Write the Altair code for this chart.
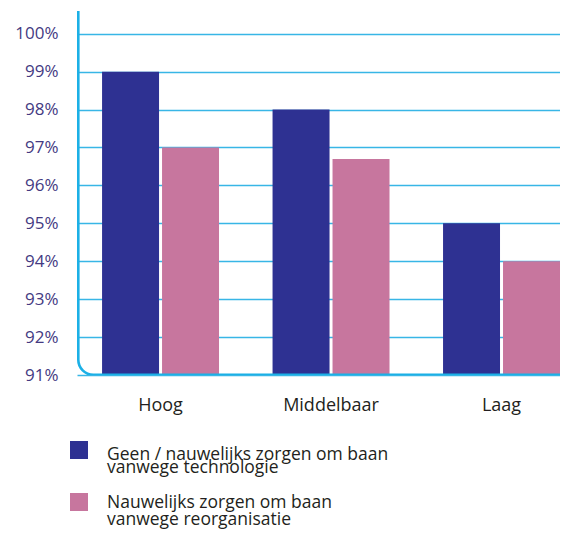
import altair as alt
import pandas as pd

categories = ["Hoog", "Middelbaar", "Laag"]
series = ["technologie", "reorganisatie"]
tech_values = [99, 98, 95]
reorg_values = [97, 96.7, 94]
legend_labels = [
    "Geen / nauwelijks zorgen om baan\nvanwege technologie",
    "Nauwelijks zorgen om baan\nvanwege reorganisatie",
]
y_ticks = [91, 92, 93, 94, 95, 96, 97, 98, 99, 100]

colors = ["#2e3192", "#c7769e"]
cyan = "#1bb0e6"
W, H = 483, 364

rows = []
for c, t, r in zip(categories, tech_values, reorg_values):
    rows.append({"cat": c, "series": series[0], "value": t})
    rows.append({"cat": c, "series": series[1], "value": r})
df = pd.DataFrame(rows)

color_scale = alt.Scale(domain=series, range=colors)

bars = alt.Chart(df).mark_bar().encode(
    x=alt.X("cat:N", sort=categories, title=None,
            scale=alt.Scale(paddingInner=0.314, paddingOuter=0.0735, align=1),
            axis=alt.Axis(labelAngle=0, domain=False, ticks=False, grid=False,
                          labelFont="Open Sans", labelFontSize=18, labelColor="#231f20",
                          labelPadding=21)),
    xOffset=alt.XOffset("series:N", sort=series, scale=alt.Scale(paddingInner=0.05)),
    y=alt.Y("value:Q", title=None,
            scale=alt.Scale(domain=[91, 100.6], zero=False, nice=False),
            axis=alt.Axis(values=y_ticks, labelExpr="datum.value + '%'", domain=False,
                          ticks=False, grid=True, gridColor="#38b6e6", gridWidth=1.5,
                          labelFont="Open Sans", labelFontSize=17, labelColor="#443a82",
                          labelPadding=19)),
    y2=alt.datum(91),
    color=alt.Color("series:N", scale=color_scale, legend=None),
)

frame = alt.Chart(pd.DataFrame({"a": [0]})).mark_rect(
    filled=False, stroke=cyan, strokeWidth=2.6, cornerRadiusBottomLeft=15, clip=True
).encode(
    x=alt.value(1.3), x2=alt.value(W + 20),
    y=alt.value(-40), y2=alt.value(H - 0.2),
)

leg_df = pd.DataFrame({"series": series, "label": legend_labels})

sq1 = alt.Chart(leg_df).transform_filter(alt.datum.series == series[0]).mark_square(
    size=324, opacity=1).encode(
    x=alt.value(2), y=alt.value(439),
    color=alt.Color("series:N", scale=color_scale, legend=None))
sq2 = alt.Chart(leg_df).transform_filter(alt.datum.series == series[1]).mark_square(
    size=324, opacity=1).encode(
    x=alt.value(2), y=alt.value(491),
    color=alt.Color("series:N", scale=color_scale, legend=None))

t1 = alt.Chart(leg_df).transform_filter(alt.datum.series == series[0]).mark_text(
    align="left", baseline="alphabetic", lineBreak="\n", lineHeight=13,
    font="Open Sans", fontSize=17.5, color="#231f20").encode(
    x=alt.value(30), y=alt.value(449), text="label:N")
t2 = alt.Chart(leg_df).transform_filter(alt.datum.series == series[1]).mark_text(
    align="left", baseline="alphabetic", lineBreak="\n", lineHeight=17,
    font="Open Sans", fontSize=17.5, color="#231f20").encode(
    x=alt.value(30), y=alt.value(497), text="label:N")

chart = alt.layer(bars, frame, sq1, sq2, t1, t2).resolve_scale(color="shared").properties(
    width=W, height=H,
    autosize=alt.AutoSizeParams(type="none"),
    padding={"left": 69, "top": 3, "right": 0, "bottom": 155},
).configure_view(stroke=None)

chart.save("out.html", embed_options={"renderer": "svg", "actions": False})
